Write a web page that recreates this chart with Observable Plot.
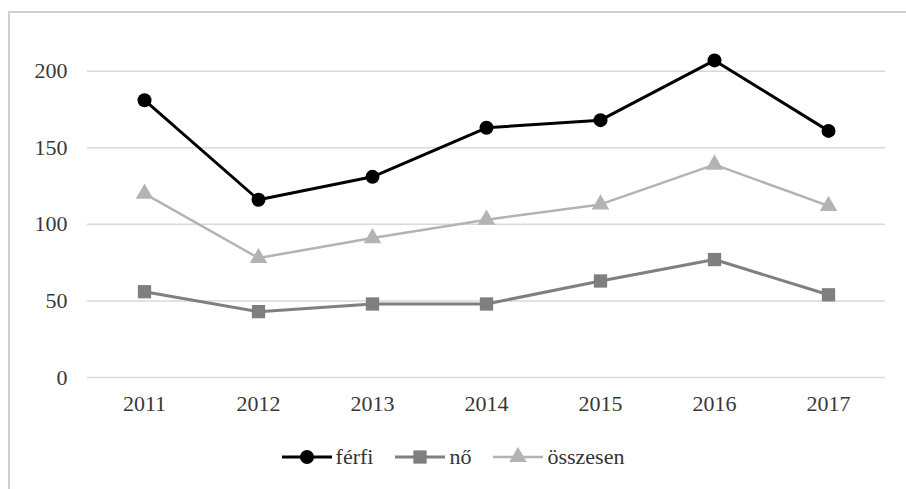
<!DOCTYPE html>
<html>
<head>
<meta charset="utf-8">
<script src="https://cdn.jsdelivr.net/npm/d3@7"></script>
<script src="https://cdn.jsdelivr.net/npm/@observablehq/plot@0.6"></script>
<style>
  html, body { margin: 0; padding: 0; background: #fff; overflow: hidden; }
  #wrap { position: relative; width: 906px; height: 489px; }
  #frame { position: absolute; left: 8px; top: 11px; width: 900px; height: 500px; border: 2px solid #d0d0d0; box-sizing: border-box; }
  #chart { position: absolute; left: 0; top: 0; }
  #legend { position: absolute; left: 0; top: 444px; width: 906px; display: flex; justify-content: center; gap: 22px;
    font-family: "Liberation Serif", "Times New Roman", serif; font-size: 22px; color: #333; }
  #legend .item { display: flex; align-items: center; gap: 4px; }
</style>
</head>
<body>
<div id="wrap">
  <div id="frame"></div>
  <div id="chart"></div>
  <div id="legend"></div>
</div>
<script>
const years = ["2011", "2012", "2013", "2014", "2015", "2016", "2017"];
const ferfi = [181, 116, 131, 163, 168, 207, 161];
const no = [56, 43, 48, 48, 63, 77, 54];
const osszesen = [120, 78, 91, 103, 113, 139, 112];
const seriesNames = ["férfi", "nő", "összesen"];
const seriesValues = [ferfi, no, osszesen];
const seriesColors = ["#000000", "#7f7f7f", "#b3b3b3"];
const seriesSymbols = ["circle", "square", "triangle"];
const seriesWidths = [3, 3, 2.5];
const seriesR = [7, 7.5, 6.5];
const yTicks = [0, 50, 100, 150, 200];

const data = [];
seriesNames.forEach((s, i) => years.forEach((y, j) => data.push({series: s, year: y, value: seriesValues[i][j]})));

const marks = [
  Plot.ruleY(yTicks, {stroke: "#d9d9d9", strokeWidth: 1.5}),
  Plot.axisX({tickSize: 0, tickPadding: 18, fontSize: 22}),
  Plot.axisY({ticks: yTicks, tickSize: 0, tickPadding: 20, fontSize: 22})
];
[2, 1, 0].forEach(i => {
  const d = data.filter(r => r.series === seriesNames[i]);
  marks.push(Plot.line(d, {x: "year", y: "value", stroke: seriesColors[i], strokeWidth: seriesWidths[i]}));
  marks.push(Plot.dot(d, {x: "year", y: "value", fill: seriesColors[i], symbol: () => seriesSymbols[i], r: seriesR[i]}));
});

const chart = Plot.plot({
  width: 906,
  height: 430,
  marginLeft: 87,
  marginRight: 21,
  marginTop: 40,
  marginBottom: 53,
  x: {type: "point", domain: years, padding: 0.5, label: null},
  y: {domain: [0, 220], label: null},
  symbol: {type: "identity"},
  style: {fontFamily: "'Liberation Serif', 'Times New Roman', serif", color: "#383838", background: "transparent"},
  marks
});
document.getElementById("chart").appendChild(chart);

const legend = document.getElementById("legend");
seriesNames.forEach((s, i) => {
  const item = document.createElement("div");
  item.className = "item";
  const sym = d3.symbol(i === 0 ? d3.symbolCircle : i === 1 ? d3.symbolSquare : d3.symbolTriangle, Math.PI * seriesR[i] * seriesR[i])();
  item.innerHTML = `<svg width="50" height="20"><line x1="0" x2="50" y1="10" y2="10" stroke="${seriesColors[i]}" stroke-width="${seriesWidths[i]}"/><path d="${sym}" transform="translate(25,10)" fill="${seriesColors[i]}"/></svg><span>${s}</span>`;
  legend.appendChild(item);
});
</script>
</body>
</html>
